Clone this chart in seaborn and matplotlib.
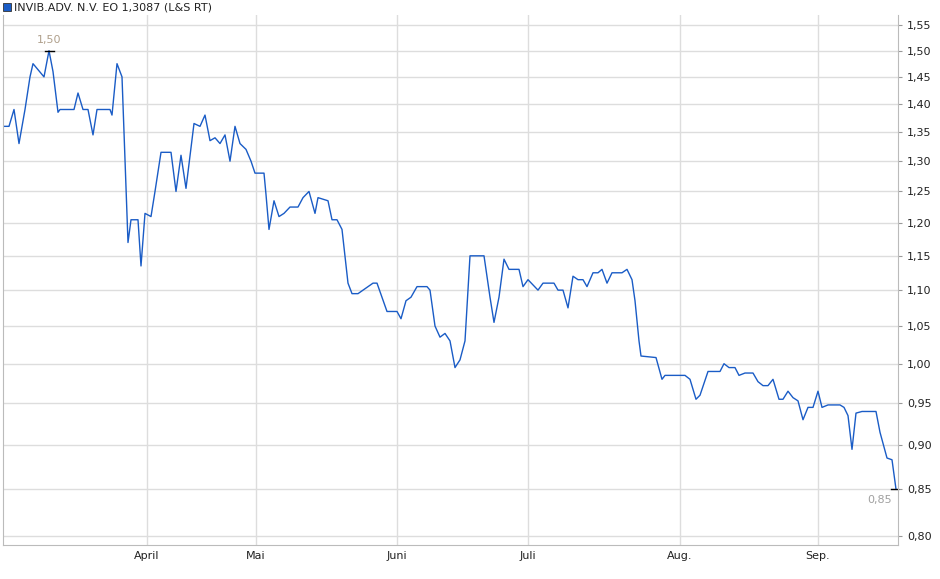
import matplotlib
matplotlib.use("Agg")
import matplotlib.pyplot as plt
import matplotlib.ticker as mticker
import seaborn as sns
import pandas as pd

# (trading-day position, price in EUR)
punkte = [
    (0.6,1.36),(1.8,1.36),(2.8,1.39),(3.8,1.33),(5.0,1.39),(6.0,1.45),(6.6,1.475),
    (8.8,1.45),(9.8,1.50),(10.6,1.46),(11.6,1.385),(12.0,1.39),(14.8,1.39),(15.6,1.42),
    (16.6,1.39),(17.6,1.39),(18.6,1.345),(19.4,1.39),(22.0,1.39),(22.4,1.38),(23.4,1.475),
    (24.4,1.45),(25.0,1.30),(25.2,1.25),(25.6,1.17),(26.2,1.205),(27.6,1.205),(28.2,1.135),
    (29.0,1.215),(30.2,1.21),(31.0,1.25),(32.2,1.315),(34.2,1.315),(35.2,1.25),(36.2,1.31),
    (37.2,1.255),(38.8,1.365),(40.0,1.36),(41.0,1.38),(42.0,1.335),(43.0,1.34),(44.0,1.33),
    (45.0,1.345),(46.0,1.30),(47.0,1.36),(48.0,1.33),(49.2,1.32),(50.2,1.30),(51.0,1.28),
    (52.8,1.28),(53.2,1.245),(53.8,1.19),(54.8,1.235),(55.8,1.21),(56.8,1.215),(58.0,1.225),
    (59.6,1.225),(60.6,1.24),(61.8,1.25),(63.0,1.215),(63.6,1.24),(65.6,1.235),(66.4,1.205),
    (67.4,1.205),(68.4,1.19),(69.0,1.15),(69.6,1.11),(70.4,1.095),(71.6,1.095),(72.6,1.10),
    (74.6,1.11),(75.4,1.11),(77.4,1.07),(79.4,1.07),(80.2,1.06),(81.2,1.085),(82.2,1.09),
    (83.4,1.105),(85.4,1.105),(86.0,1.10),(87.0,1.05),(88.0,1.035),(89.0,1.04),(90.0,1.03),
    (91.0,0.995),(92.0,1.005),(93.0,1.03),(94.0,1.15),(96.8,1.15),(98.0,1.09),(98.8,1.055),
    (99.8,1.09),(100.8,1.145),(101.8,1.13),(103.8,1.13),(104.6,1.105),(105.6,1.115),
    (107.6,1.10),(108.6,1.11),(110.8,1.11),(111.6,1.10),(112.6,1.10),(113.6,1.075),
    (114.6,1.12),(115.6,1.115),(116.6,1.115),(117.4,1.105),(118.6,1.125),(119.6,1.125),
    (120.4,1.13),(121.4,1.11),(122.4,1.125),(124.4,1.125),(125.4,1.13),(126.4,1.115),
    (127.0,1.085),(127.8,1.03),(128.2,1.01),(131.2,1.008),(132.4,0.98),(133.0,0.985),
    (134.4,0.985),(134.8,0.985),(137.0,0.985),(138.0,0.98),(139.2,0.955),(140.0,0.96),
    (141.6,0.99),(144.0,0.99),(144.8,1.00),(145.8,0.995),(147.0,0.995),(147.8,0.985),
    (149.0,0.988),(150.6,0.988),(151.6,0.977),(152.6,0.972),(153.6,0.972),(154.6,0.98),
    (155.8,0.955),(156.6,0.955),(157.6,0.965),(158.6,0.957),(159.6,0.953),(160.6,0.93),
    (161.6,0.945),(162.6,0.945),(163.6,0.965),(164.4,0.945),(165.6,0.948),(168.0,0.948),
    (168.8,0.945),(169.6,0.935),(170.4,0.895),(171.2,0.938),(172.4,0.94),(175.2,0.94),
    (176.0,0.915),(177.4,0.885),(178.4,0.883),(179.2,0.85),
]
tage = [p[0] for p in punkte]
kurs = [p[1] for p in punkte]

monate = ["April", "Mai", "Juni", "Juli", "Aug.", "Sep."]
monat_pos = [29.4, 51.2, 79.4, 105.6, 136.0, 163.6]
y_ticks = [0.80,0.85,0.90,0.95,1.00,1.05,1.10,1.15,1.20,1.25,1.30,1.35,1.40,1.45,1.50,1.55]

df = pd.DataFrame({"t": tage, "kurs": kurs})

fig = plt.figure(figsize=(9.4, 5.79), dpi=100)
ax = fig.add_axes([3/940, 1-545/579, 895/940, 530/579])
sns.lineplot(data=df, x="t", y="kurs", ax=ax, color="#1a5cc6", linewidth=1.0)
ax.set_yscale("log")
ax.set_ylim(0.7907, 1.571)
ax.set_xlim(0.6, 179.6)
ax.yaxis.tick_right()
ax.yaxis.set_major_locator(mticker.FixedLocator(y_ticks))
ax.yaxis.set_minor_locator(mticker.NullLocator())
ax.set_yticklabels([f"{v:.2f}".replace(".", ",") for v in y_ticks])
ax.set_xticks(monat_pos)
ax.set_xticklabels(monate)
ax.tick_params(axis="both", labelsize=8, length=3, color="#999999", labelcolor="#222222")
ax.tick_params(axis="x", length=0, pad=4)
ax.grid(True, color="#dddddd", linewidth=1)
ax.set_axisbelow(True)
ax.spines["top"].set_visible(False)
for s in ["left", "right", "bottom"]:
    ax.spines[s].set_color("#bbbbbb")
ax.set_xlabel("")
ax.set_ylabel("")

imax = kurs.index(max(kurs))
ax.plot([tage[imax]-0.9, tage[imax]+0.9], [kurs[imax]]*2, color="black", lw=1)
ax.annotate("1,50", (tage[imax], kurs[imax]), xytext=(0, 4), textcoords="offset points",
            ha="center", va="bottom", fontsize=8, color="#b0a08c")
ax.plot([tage[-1]-0.9, tage[-1]+0.3], [kurs[-1]]*2, color="black", lw=1, clip_on=False)
ax.annotate("0,85", (tage[-1], kurs[-1]), xytext=(-3, -4), textcoords="offset points",
            ha="right", va="top", fontsize=8, color="#a0a0a0")

fig.patches.append(plt.Rectangle((3/940, 1-11/579), 8/940, 8/579, transform=fig.transFigure,
                                 facecolor="#1a5cc6", edgecolor="#333333", lw=0.6))
fig.text(14/940, 1-7/579, "INVIB.ADV. N.V. EO 1,3087 (L&S RT)", fontsize=8, va="center",
         ha="left", color="#222222")

fig.savefig("out.png", dpi=100)
